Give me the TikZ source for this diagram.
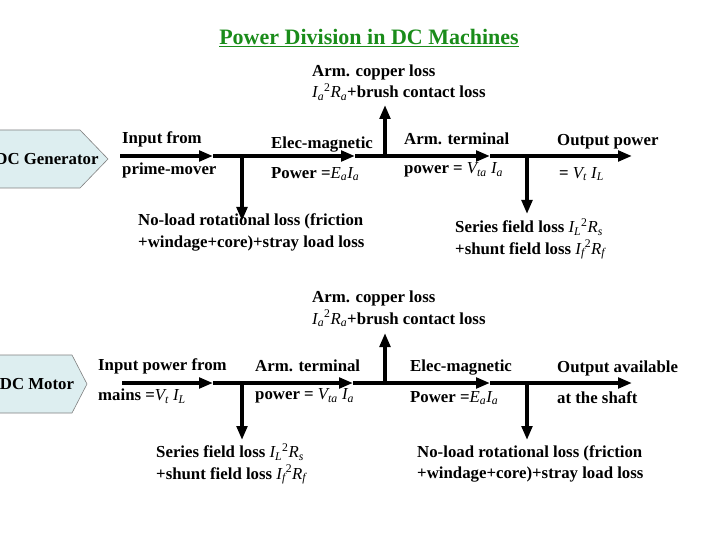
\documentclass[tikz,border=0pt]{standalone}
\usepackage{fontspec}
\setmainfont{Liberation Serif}
\usetikzlibrary{arrows.meta}
\definecolor{boxfill}{RGB}{221,238,240}
\definecolor{titlegreen}{RGB}{26,140,26}
\newcommand{\myit}[1]{{\mdseries\itshape #1}}
\newcommand{\mysub}[1]{\textsubscript{\mdseries\itshape #1}}
\newcommand{\mysup}[1]{\textsuperscript{\mdseries #1}}
\begin{document}
\begin{tikzpicture}[x=1pt,y=-1pt,
 lbl/.style={anchor=west,inner sep=0pt,font=\fontsize{16.8}{21.5}\selectfont\bfseries,align=left},
 flow/.style={line width=4pt,-{Triangle[length=14pt,width=10.5pt]}},
 machine/.style={draw=gray,fill=boxfill,line width=0.6pt}]
\useasboundingbox (0,0) rectangle (720,540);

% title
\node[inner sep=0pt,text=titlegreen,font=\fontsize{22}{26}\selectfont\bfseries] (title) at (369,38) {\underline{Power Division in DC Machines}};

% ---------------- Generator ----------------
\path[machine] (-5,130) -- (80,130) -- (108,159) -- (80,188) -- (-5,188) -- cycle;
\node[lbl,anchor=center] (gen) at (47,159) {DC Generator};

\coordinate (gs) at (120,156);
\coordinate (ga1) at (213,156);
\coordinate (gj1) at (242,156);
\coordinate (ga2) at (355,156);
\coordinate (gj2) at (385,156);
\coordinate (ga3) at (490,156);
\coordinate (gj3) at (527,156);
\coordinate (ga4) at (632,156);
\coordinate (gd1) at (242,221);
\coordinate (gu1) at (385,105);
\coordinate (gd2) at (527,214);

\draw[flow] (gs) -- (ga1);
\draw[flow] (ga1) -- (ga2);
\draw[flow] (ga2) -- (ga3);
\draw[flow] (ga3) -- (ga4);
\draw[flow] (gj1) -- (gd1);
\draw[flow] (gj2) -- (gu1);
\draw[flow] (gj3) -- (gd2);

\node[lbl] (g1a) at (122,139) {Input from};
\node[lbl] (g1b) at (122,170) {prime-mover};
\node[lbl] (g2a) at (271,145) {Elec-magnetic};
\node[lbl] (g2b) at (271,174) {Power =\myit{E}\mysub{a}\myit{I}\mysub{a}};
\node[lbl] (g3a) at (404,139) {Arm. terminal};
\node[lbl] (g3b) at (404,170) {power = \myit{V}\mysub{ta} \myit{I}\mysub{a}};
\node[lbl] (g4a) at (557,142) {Output power};
\node[lbl] (g4b) at (559,174) {= \myit{V}\mysub{t} \myit{I}\mysub{L}};
\node[lbl] (gl1) at (138,232.5) {No-load rotational loss (friction\\+windage+core)+stray load loss};
\node[lbl] (gl2) at (455,239) {Series field loss \myit{I}\mysub{L}\mysup{2}\myit{R}\mysub{s}\\+shunt field loss \myit{I}\mysub{f}\mysup{2}\myit{R}\mysub{f}};
\node[lbl] (gl3) at (312,82.5) {Arm. copper loss\\\myit{I}\mysub{a}\mysup{2}\myit{R}\mysub{a}+brush contact loss};

% ---------------- Motor ----------------
\path[machine] (-5,355) -- (72,355) -- (87,384) -- (72,413) -- (-5,413) -- cycle;
\node[lbl,anchor=center] (mot) at (37,384) {DC Motor};

\coordinate (ms) at (122,383);
\coordinate (ma1) at (213,383);
\coordinate (mj1) at (242,383);
\coordinate (ma2) at (353,383);
\coordinate (mj2) at (385,383);
\coordinate (ma3) at (490,383);
\coordinate (mj3) at (527,383);
\coordinate (ma4) at (632,383);
\coordinate (md1) at (242,440);
\coordinate (mu1) at (385,333);
\coordinate (md2) at (527,440);

\draw[flow] (ms) -- (ma1);
\draw[flow] (ma1) -- (ma2);
\draw[flow] (ma2) -- (ma3);
\draw[flow] (ma3) -- (ma4);
\draw[flow] (mj1) -- (md1);
\draw[flow] (mj2) -- (mu1);
\draw[flow] (mj3) -- (md2);

\node[lbl] (m1a) at (98,366) {Input power from};
\node[lbl] (m1b) at (98,396) {mains =\myit{V}\mysub{t} \myit{I}\mysub{L}};
\node[lbl] (m2a) at (255,366) {Arm. terminal};
\node[lbl] (m2b) at (255,396) {power = \myit{V}\mysub{ta} \myit{I}\mysub{a}};
\node[lbl] (m3a) at (410,368) {Elec-magnetic};
\node[lbl] (m3b) at (410,398) {Power =\myit{E}\mysub{a}\myit{I}\mysub{a}};
\node[lbl] (m4a) at (557,368) {Output available};
\node[lbl] (m4b) at (557,398) {at the shaft};
\node[lbl] (ml1) at (156,464) {Series field loss \myit{I}\mysub{L}\mysup{2}\myit{R}\mysub{s}\\+shunt field loss \myit{I}\mysub{f}\mysup{2}\myit{R}\mysub{f}};
\node[lbl] (ml2) at (417,464) {No-load rotational loss (friction\\+windage+core)+stray load loss};
\node[lbl] (ml3) at (312,309) {Arm. copper loss\\\myit{I}\mysub{a}\mysup{2}\myit{R}\mysub{a}+brush contact loss};
\end{tikzpicture}
\end{document}
